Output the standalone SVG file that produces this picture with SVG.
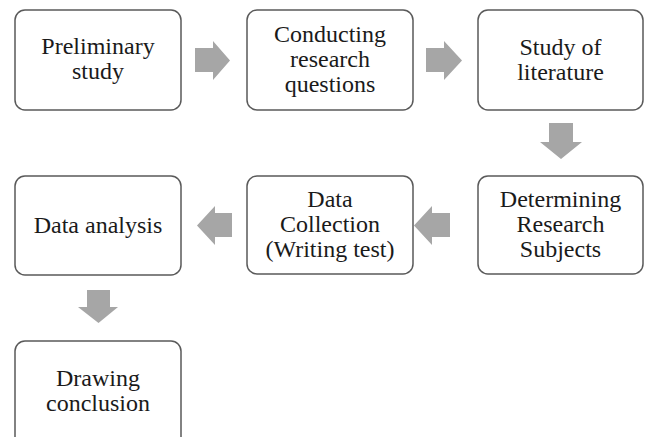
<svg xmlns="http://www.w3.org/2000/svg" width="649" height="437" viewBox="0 0 649 437">
<style>
.box{fill:#fff;stroke:#5a5a5a;stroke-width:1.5}
.t{font-family:"Liberation Serif","DejaVu Serif",serif;font-size:24px;fill:#1a1a1a;text-anchor:middle}
.arr{fill:#a6a6a6}
</style>
<rect width="649" height="437" fill="#fff"/>
<g id="n1"><rect class="box" x="15" y="10" width="166" height="100" rx="10"/>
<text class="t" x="98" y="54">Preliminary</text><text class="t" x="98" y="79">study</text></g>
<g id="n2"><rect class="box" x="247" y="10" width="166" height="100" rx="10"/>
<text class="t" x="330" y="42">Conducting</text><text class="t" x="330" y="67">research</text><text class="t" x="330" y="92">questions</text></g>
<g id="n3"><rect class="box" x="478" y="10" width="165" height="100" rx="10"/>
<text class="t" x="560.5" y="55">Study of</text><text class="t" x="560.5" y="80">literature</text></g>
<g id="n4"><rect class="box" x="478" y="176" width="165" height="98" rx="10"/>
<text class="t" x="560.5" y="207">Determining</text><text class="t" x="560.5" y="232">Research</text><text class="t" x="560.5" y="257">Subjects</text></g>
<g id="n5"><rect class="box" x="247" y="176" width="166" height="98" rx="10"/>
<text class="t" x="330" y="207">Data</text><text class="t" x="330" y="232">Collection</text><text class="t" x="330" y="257">(Writing test)</text></g>
<g id="n6"><rect class="box" x="15" y="176" width="166" height="99" rx="10"/>
<text class="t" x="98" y="233">Data analysis</text></g>
<g id="n7"><rect class="box" x="15" y="341" width="166" height="110" rx="10"/>
<text class="t" x="98" y="386">Drawing</text><text class="t" x="98" y="411">conclusion</text></g>
<g id="connectors">
<polygon class="arr" points="195,48 213,48 213,41 230,60.5 213,80 213,72 195,72"/>
<polygon class="arr" points="426,48 444,48 444,41 462,60.5 444,80 444,72 426,72"/>
<polygon class="arr" points="549,123 573,123 573,142 582,142 561,159 540,142 549,142"/>
<polygon class="arr" points="450,213 432,213 432,206 414,225.5 432,245 432,237 450,237"/>
<polygon class="arr" points="232,213 215,213 215,206 197,225.5 215,245 215,237 232,237"/>
<polygon class="arr" points="87,290 110,290 110,307 118,307 98.5,323 78,307 87,307"/>
</g>
</svg>
